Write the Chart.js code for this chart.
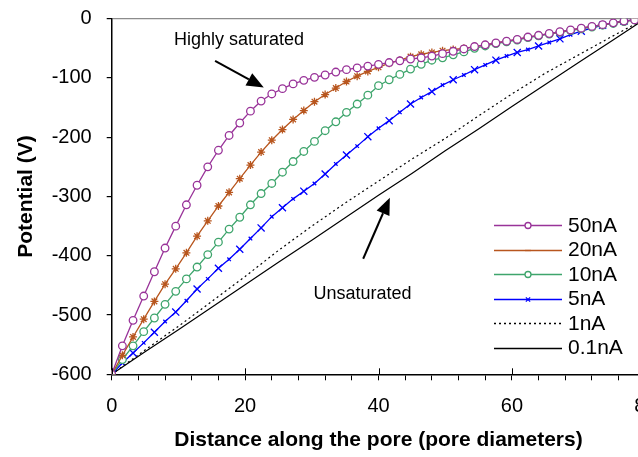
<!DOCTYPE html>
<html>
<head>
<meta charset="utf-8">
<script src="https://cdn.jsdelivr.net/npm/chart.js@4/dist/chart.umd.min.js"></script>
<style>
  html, body { margin: 0; padding: 0; background: #fff; overflow: hidden; width: 638px; height: 457px; }
  canvas { display: block; }
</style>
</head>
<body>
<canvas id="chart" width="700" height="457"></canvas>
<script>
// Sample positions along the pore (pore diameters) for the marked curves
const positions = [0, 1.6, 3.2, 4.8, 6.4, 8, 9.6, 11.2, 12.8, 14.4,
  16, 17.6, 19.2, 20.8, 22.4, 24, 25.6, 27.2, 28.8, 30.4,
  32, 33.6, 35.2, 36.8, 38.4, 40, 41.6, 43.2, 44.8, 46.4,
  48, 49.6, 51.2, 52.8, 54.4, 56, 57.6, 59.2, 60.8, 62.4,
  64, 65.6, 67.2, 68.8, 70.4, 72, 73.6, 75.2, 76.8, 78.4, 80];

// Potential (V) for each current
const potential50nA = [-600, -552, -509, -468, -427, -387, -350, -314, -281, -250,
  -222, -197, -176, -156, -139, -127, -118, -110, -104, -99,
  -95, -90, -86, -83, -80, -77, -74, -71, -68, -66,
  -63, -59, -55, -51, -47, -44, -41, -38, -35, -31,
  -28, -25, -22, -19, -16, -13, -10, -7, -4, -2, 0];

const potential20nA = [-600, -568, -537, -507, -477, -448, -422, -395, -367, -341,
  -316, -293, -270, -247, -225, -205, -187, -170, -155, -140,
  -128, -117, -106, -97, -89, -82, -75, -70, -64, -60,
  -57, -54, -52, -50, -47, -44, -41, -38, -35, -31,
  -28, -25, -22, -19, -16, -13, -10, -7, -4, -2, 0];

const potential10nA = [-600, -575, -552, -528, -505, -482, -460, -439, -419, -398,
  -377, -355, -335, -314, -295, -278, -259, -241, -224, -207,
  -189, -174, -158, -144, -129, -113, -103, -94, -85, -77,
  -70, -66, -61, -56, -50, -46, -42, -39, -36, -32,
  -29, -26, -23, -20, -17, -14, -11, -8, -5, -2, 0];

const potential5nA = [-600, -581, -564, -547, -529, -511, -495, -476, -456, -439,
  -421, -406, -389, -371, -353, -334, -319, -304, -291, -278,
  -262, -245, -230, -215, -199, -185, -172, -158, -144, -133,
  -123, -112, -103, -95, -86, -78, -70, -63, -57, -52,
  -46, -40, -34, -27, -21, -16, -11, -7, -4, -2, 0];

// Low-current curves, drawn without markers
const positionsLow = [0, 5, 10, 15, 20, 25, 30, 35, 40, 45, 50, 55, 60, 65, 70, 75, 80];
const potential1nA = [-600, -559, -519, -477, -435, -391, -350, -311, -274, -237,
  -202, -164, -127, -92, -61, -30, 0];
const potential01nA = [-600, -562, -525, -487, -449, -411, -374, -336, -298, -261,
  -223, -186, -148, -111, -74, -37, 0];

const seriesLabels = ['50nA', '20nA', '10nA', '5nA', '1nA', '0.1nA'];
const xMajorTicks = [0, 20, 40, 60, 80];

const FONT = "'Liberation Sans', Arial, Helvetica, sans-serif";
Chart.defaults.font.family = FONT;
Chart.defaults.color = '#000';

const pts = (xs, ys) => xs.map((x, i) => ({ x: x, y: ys[i] }));

// Text labels with arrows, placed in data coordinates
const notes = [
  { text: 'Highly saturated', at: [19.1, -36], from: [15.5, -71], to: [22.8, -116] },
  { text: 'Unsaturated', at: [37.6, -465], from: [37.7, -405], to: [41.7, -302] }
];

const legendBox = { lineStart: 494, lineEnd: 562, top: 225, step: 24.5, textGap: 6 };

function drawMarker(ctx, ds, x, y, r) {
  ctx.save();
  ctx.strokeStyle = ds.borderColor;
  ctx.fillStyle = ds.pointBackgroundColor || ds.borderColor;
  ctx.lineWidth = 1.3;
  ctx.setLineDash([]);
  if (Chart.helpers && Chart.helpers.drawPoint) {
    Chart.helpers.drawPoint(ctx, { pointStyle: ds.legendStyle || ds.pointStyle, radius: r, borderWidth: 1.3, rotation: 0 }, x, y);
  }
  ctx.restore();
}

const overlay = {
  id: 'overlay',
  afterDraw(chart) {
    const ctx = chart.ctx;
    const xs = chart.scales.x, ys = chart.scales.y;
    const base = chart.chartArea.bottom;

    // upper half of the major x ticks
    ctx.save();
    ctx.strokeStyle = '#000';
    ctx.lineWidth = 1;
    xMajorTicks.forEach(v => {
      const px = Math.round(xs.getPixelForValue(v)) + 0.5;
      ctx.beginPath();
      ctx.moveTo(px, base - 6);
      ctx.lineTo(px, base);
      ctx.stroke();
    });
    ctx.restore();

    // notes and arrows
    ctx.save();
    ctx.fillStyle = '#000';
    ctx.strokeStyle = '#000';
    ctx.font = '18px ' + FONT;
    ctx.textAlign = 'center';
    ctx.textBaseline = 'middle';
    notes.forEach(n => {
      ctx.fillText(n.text, xs.getPixelForValue(n.at[0]), ys.getPixelForValue(n.at[1]));
      const x0 = xs.getPixelForValue(n.from[0]), y0 = ys.getPixelForValue(n.from[1]);
      const x1 = xs.getPixelForValue(n.to[0]), y1 = ys.getPixelForValue(n.to[1]);
      const ang = Math.atan2(y1 - y0, x1 - x0);
      const headLen = 17, headHalf = 7;
      const bx = x1 - headLen * Math.cos(ang), by = y1 - headLen * Math.sin(ang);
      ctx.lineWidth = 2;
      ctx.beginPath();
      ctx.moveTo(x0, y0);
      ctx.lineTo(bx, by);
      ctx.stroke();
      ctx.beginPath();
      ctx.moveTo(x1, y1);
      ctx.lineTo(bx + headHalf * Math.sin(ang), by - headHalf * Math.cos(ang));
      ctx.lineTo(bx - headHalf * Math.sin(ang), by + headHalf * Math.cos(ang));
      ctx.closePath();
      ctx.fill();
    });
    ctx.restore();

    // legend
    ctx.save();
    chart.data.datasets.forEach((ds, i) => {
      const y = legendBox.top + i * legendBox.step;
      ctx.strokeStyle = ds.borderColor;
      ctx.lineWidth = 1.3;
      ctx.setLineDash(ds.borderDash || []);
      ctx.beginPath();
      ctx.moveTo(legendBox.lineStart, Math.round(y) + 0.5);
      ctx.lineTo(legendBox.lineEnd, Math.round(y) + 0.5);
      ctx.stroke();
      ctx.setLineDash([]);
      if (ds.pointRadius !== 0) {
        drawMarker(ctx, ds, (legendBox.lineStart + legendBox.lineEnd) / 2, Math.round(y) + 0.5, 3);
      }
      ctx.fillStyle = '#000';
      ctx.font = '21px ' + FONT;
      ctx.textAlign = 'left';
      ctx.textBaseline = 'middle';
      ctx.fillText(ds.label, legendBox.lineEnd + legendBox.textGap, y + 1);
    });
    ctx.restore();
  }
};

new Chart(document.getElementById('chart'), {
  type: 'line',
  data: {
    datasets: [
      { label: seriesLabels[0], data: pts(positions, potential50nA), borderColor: '#993399',
        pointBackgroundColor: '#ffffff', pointStyle: 'circle', pointRadius: 3.8, pointBorderWidth: 1.3, borderWidth: 1.3 },
      { label: seriesLabels[1], data: pts(positions, potential20nA), borderColor: '#b8561e',
        pointBackgroundColor: '#b8561e', pointStyle: 'star', legendStyle: 'line', pointRadius: 4, pointBorderWidth: 1.3, borderWidth: 1.3 },
      { label: seriesLabels[2], data: pts(positions, potential10nA), borderColor: '#3ea56c',
        pointBackgroundColor: '#ffffff', pointStyle: 'circle', pointRadius: 3.8, pointBorderWidth: 1.3, borderWidth: 1.3 },
      { label: seriesLabels[3], data: pts(positions, potential5nA), borderColor: '#0000ff',
        pointBackgroundColor: '#0000ff', pointStyle: 'crossRot',
        pointRadius: c => (c.dataIndex % 2 ? 2.5 : 5), pointBorderWidth: 1.3, borderWidth: 1.3 },
      { label: seriesLabels[4], data: pts(positionsLow, potential1nA), borderColor: '#000000',
        borderDash: [2, 3], pointRadius: 0, borderWidth: 1.2 },
      { label: seriesLabels[5], data: pts(positionsLow, potential01nA), borderColor: '#000000',
        pointRadius: 0, borderWidth: 1.2 }
    ]
  },
  options: {
    responsive: false,
    animation: false,
    devicePixelRatio: 1,
    layout: { padding: { top: 18.7, right: 54.7, bottom: 0, left: 0 } },
    elements: { line: { tension: 0 }, point: { hoverRadius: 3.8 } },
    plugins: { legend: { display: false }, tooltip: { enabled: false } },
    scales: {
      x: {
        type: 'linear', min: 0, max: 80,
        afterFit(s) { s.height = 82.7; },
        border: { color: '#000', width: 1.5 },
        grid: { drawOnChartArea: false, tickLength: 6, tickColor: '#000', tickWidth: 1 },
        ticks: {
          stepSize: 4, autoSkip: false, maxRotation: 0, color: '#000', padding: 14,
          font: { size: 20 },
          callback: v => (xMajorTicks.includes(v) ? String(v) : '')
        },
        title: {
          display: true, text: 'Distance along the pore (pore diameters)', color: '#000',
          font: { size: 21, weight: 'bold' }, padding: { top: 0, bottom: 4 }
        }
      },
      y: {
        min: -600, max: 0,
        afterFit(s) { s.width = 111.7; s.paddingTop = 12; s.paddingBottom = 12; },
        border: { color: '#000', width: 1.5 },
        grid: {
          color: c => (c.tick && c.tick.value === 0 ? '#8c8c8c' : 'rgba(0,0,0,0)'),
          tickColor: '#000', tickLength: 5, lineWidth: 1.2
        },
        ticks: { stepSize: 100, color: '#000', padding: 15, font: { size: 20 } },
        title: {
          display: true, text: 'Potential (V)', color: '#000',
          font: { size: 21, weight: 'bold' }, padding: { top: 14, bottom: 0 }
        }
      }
    }
  },
  plugins: [overlay]
});
</script>
</body>
</html>
